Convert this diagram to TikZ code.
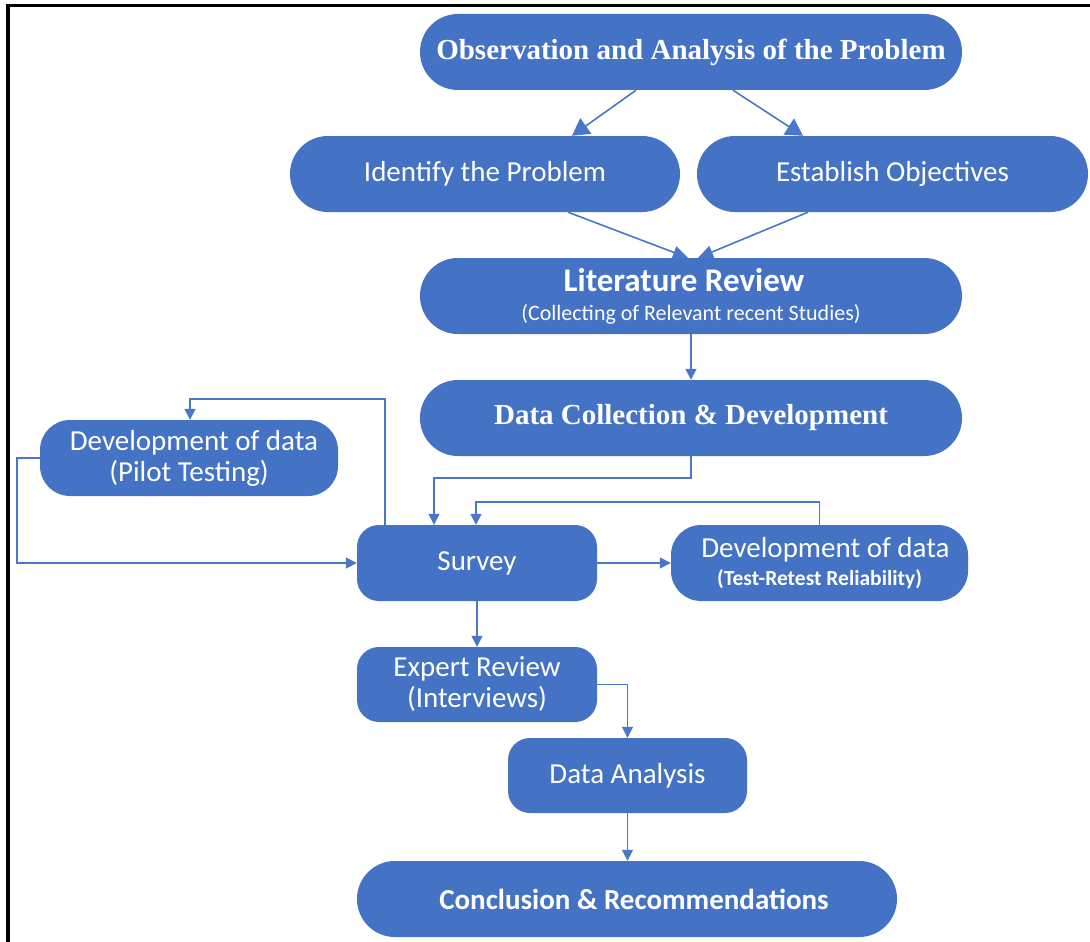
\documentclass[tikz,border=0pt]{standalone}
\usepackage{fontspec}
\usetikzlibrary{arrows.meta}
\newfontfamily\calfont{Carlito}
\newfontfamily\timesfont{Liberation Serif}
\definecolor{boxblue}{HTML}{4472C4}
\definecolor{linkblue}{HTML}{4A78C8}
\newcommand{\bigtxt}{\fontsize{29}{31}\selectfont}
\newcommand{\headtxt}{\fontsize{33}{34}\selectfont}
\newcommand{\smalltxt}{\fontsize{22}{23}\selectfont}
\newcommand{\subtxt}{\fontsize{21.5}{23}\selectfont}

\begin{document}
\begin{tikzpicture}[x=1pt,y=-1pt,
  box/.style={fill=boxblue, text=white, inner sep=0pt, align=center, font=\calfont\bigtxt},
  pill/.style={box, minimum width=542pt, minimum height=76pt, rounded corners=37.9pt},
  link/.style={draw=linkblue, line width=1.6pt, -{Triangle[length=11pt,width=11pt]}},
  biglink/.style={link, -{Triangle[length=17pt,width=19pt]}},
  midlink/.style={link, -{Triangle[length=15pt,width=13pt]}}
]
\useasboundingbox (0,0) rectangle (1090,942);
\fill[white] (0,0) rectangle (1090,942);

% page frame
\draw[black, line width=3.5pt] (8,942) -- (8,5.5) -- (1090,5.5);

% boxes
\node[pill, font=\timesfont\bfseries\bigtxt] (obs) at (691,52) {Observation and Analysis of the Problem};
\node[box, minimum width=390pt, minimum height=76pt, rounded corners=37.9pt] (ident) at (485,174) {Identify the Problem};
\node[box, minimum width=391pt, minimum height=76pt, rounded corners=37.9pt] (estab) at (892.5,174) {Establish Objectives};
\node[pill] (lit) at (691,296) {{\headtxt\bfseries Literature Review}\hspace*{14pt}\\[-2pt]{\smalltxt (Collecting of Relevant recent Studies)}};
\node[pill, font=\timesfont\bfseries\bigtxt] (dc) at (691,418) {Data Collection \& Development};
\node[box, minimum width=298pt, minimum height=76pt, rounded corners=30pt] (pilot) at (189,458) {\hspace*{10pt}Development of data\\(Pilot Testing)};
\node[box, minimum width=240pt, minimum height=76pt, rounded corners=22pt] (survey) at (477,563) {Survey};
\node[box, minimum width=297pt, minimum height=76pt, rounded corners=30pt] (tr) at (819.5,563) {\hspace*{12pt}Development of data\\[-3pt]{\subtxt\bfseries (Test-Retest Reliability)}};
\node[box, minimum width=240pt, minimum height=75pt, rounded corners=22pt] (expert) at (477,684.5) {Expert Review\\(Interviews)};
\node[box, minimum width=239pt, minimum height=75pt, rounded corners=22pt] (da) at (627.5,775.5) {Data Analysis};
\node[pill, minimum width=540pt, font=\calfont\bfseries\bigtxt] (conc) at (627,899) {\hspace*{14pt}Conclusion \& Recommendations};

% connectors
\draw[biglink] ([xshift=-55pt]obs.south) -- ([xshift=87pt]ident.north);
\draw[biglink] ([xshift=42pt]obs.south) -- ([xshift=-89.5pt]estab.north);
\draw[midlink] ([xshift=83pt]ident.south) -- ([xshift=-3pt]lit.north);
\draw[midlink] ([xshift=-84.5pt]estab.south) -- ([xshift=7pt]lit.north);
\draw[link] (lit.south) -- (dc.north);
\draw[link] (dc.south) -- ++(0,22) -| ([xshift=-43pt]survey.north);
\draw[link] (tr.north) -- ++(0,-23) -| ([xshift=-1pt]survey.north);
\draw[link] ([xshift=-92pt]survey.north) -- ++(0,-126) -| ([xshift=1pt]pilot.north);
\draw[link] (pilot.west) -- ++(-23,0) |- (survey.west);
\draw[link] (survey.east) -- (tr.west);
\draw[link] (survey.south) -- (expert.north);
\draw[link] (expert.east) -| (da.north);
\draw[link] (da.south) -- (da.south |- conc.north);
\end{tikzpicture}
\end{document}
